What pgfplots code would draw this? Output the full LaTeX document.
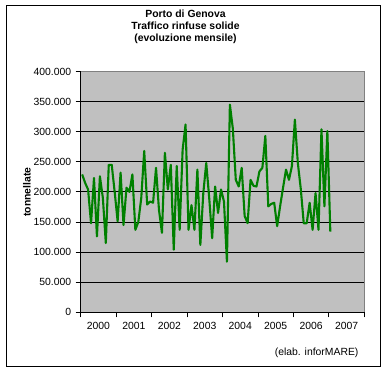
\documentclass[border=0pt]{standalone}
\usepackage{pgfplots}
\pgfplotsset{compat=1.18}
\usepackage{pgfplotstable}
\usepackage{fontspec}
\setmainfont{Liberation Sans}
\definecolor{plotgray}{HTML}{C0C0C0}
\definecolor{linegreen}{HTML}{008000}
\definecolor{bordergray}{HTML}{808080}
\pgfplotstableread{
m v
0.5 229
1.5 215
2.5 204
3.5 148
4.5 223
5.5 126
6.5 226
7.5 190
8.5 115
9.5 245
10.5 245
11.5 200
12.5 151
13.5 232
14.5 145
15.5 207
16.5 200
17.5 229
18.5 137
19.5 150
20.5 190
21.5 268
22.5 179
23.5 184
24.5 182
25.5 240
26.5 170
27.5 132
28.5 265
29.5 204
30.5 245
31.5 104
32.5 243
33.5 137
34.5 270
35.5 312
36.5 137
37.5 178
38.5 137
39.5 237
40.5 112
41.5 198
42.5 248
43.5 190
44.5 123
45.5 209
46.5 165
47.5 204
48.5 184
49.5 84
50.5 345
51.5 305
52.5 220
53.5 209
54.5 240
55.5 160
56.5 148
57.5 220
58.5 210
59.5 209
60.5 234
61.5 240
62.5 293
63.5 176
64.5 180
65.5 182
66.5 143
67.5 176
68.5 207
69.5 237
70.5 220
71.5 243
72.5 320
73.5 248
74.5 205
75.5 148
76.5 148
77.5 182
78.5 137
79.5 198
80.5 137
81.5 304
82.5 176
83.5 301
84.5 134
}\genova
\begin{document}
\begin{tikzpicture}
\path[use as bounding box] (0pt,0pt) rectangle (383pt,372pt);
\fill[white] (0pt,0pt) rectangle (383pt,372pt);
\draw[black, line width=0.9pt] (6pt,6pt) rectangle (380pt,367pt);
\begin{axis}[
  at={(80.7pt,59.7pt)}, anchor=south west,
  scale only axis, width=283.6pt, height=240.8pt,
  xmin=0, xmax=96, ymin=0, ymax=400,
  clip=false,
  axis background/.style={fill=plotgray},
  axis line style={draw=none},
  xtick={6,18,...,90},
  xticklabels={2000,2001,2002,2003,2004,2005,2006,2007},
  minor xtick={0,12,...,96},
  ytick={0,50,...,400},
  yticklabels={0,50.000,100.000,150.000,200.000,250.000,300.000,350.000,400.000},
  xtick pos=bottom, ytick pos=left,
  tick align=outside,
  major tick length=5pt, minor tick length=5pt,
  every tick/.style={black, line width=0.8pt},
  major x tick style={draw=none},
  ymajorgrids,
  grid style={black, line width=0.8pt},
  ticklabel style={font=\fontsize{10.4}{12}\selectfont},
  yticklabel style={xshift=-1pt},
  xticklabel style={yshift=-1pt},
  /pgf/number format/assume math mode=true,
]
\addplot[linegreen, line width=2.1pt, line join=round, mark=none] table[x=m, y=v] {\genova};
\draw[bordergray, line width=0.8pt] (rel axis cs:0,1) -- (rel axis cs:1,1) -- (rel axis cs:1,0);
\draw[black, line width=0.8pt] (rel axis cs:0,1) -- (rel axis cs:0,0) -- (rel axis cs:1,0);
\end{axis}
\node[font=\fontsize{10.4}{12}\selectfont\bfseries] at (185.5pt,358.7pt) {Porto di Genova};
\node[font=\fontsize{10.4}{12}\selectfont\bfseries] at (185.5pt,346pt) {Traffico rinfuse solide};
\node[font=\fontsize{10.4}{12}\selectfont\bfseries] at (185.5pt,333.3pt) {(evoluzione mensile)};
\node[font=\fontsize{10.4}{12}\selectfont\bfseries, rotate=90] at (27pt,180pt) {tonnellate};
\node[font=\fontsize{10.4}{12}\selectfont, anchor=east] at (362pt,18.7pt) {(elab. inforMARE)};
\end{tikzpicture}
\end{document}
